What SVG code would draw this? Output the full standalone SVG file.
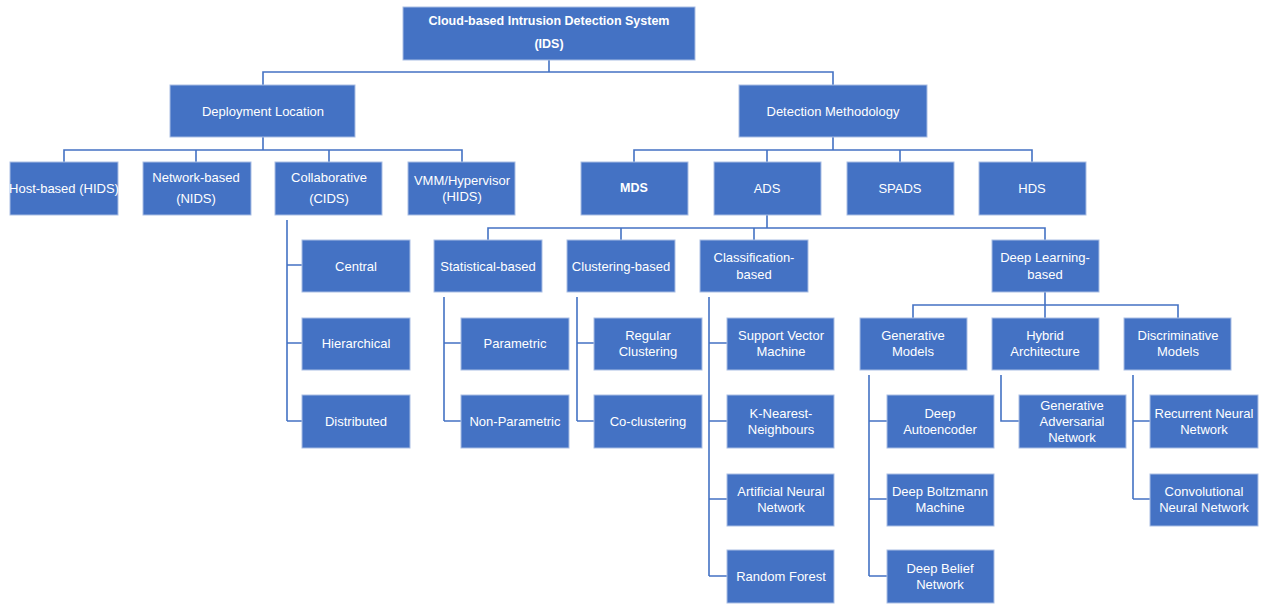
<svg xmlns="http://www.w3.org/2000/svg" width="1263" height="605" viewBox="0 0 1263 605">
<style>
.n rect{fill:#4472C4;stroke:#A9BEE4;stroke-width:1}
.n text{fill:#fff;font-family:"Liberation Sans",Arial,sans-serif;font-size:13px;text-anchor:middle;dominant-baseline:central}
.b text{font-weight:bold;font-size:12.5px}
#connectors path{fill:none;stroke:#4472C4;stroke-width:1.6}
</style>
<rect width="1263" height="605" fill="#fff"/>
<g id="connectors">
<path d="M549,60V72M263,85V72H833V85"/>
<path d="M263,137V150M64,162V150H462V162M196,150V162M329,150V162"/>
<path d="M833,137V150M634,162V150H1032V162M767,150V162M900,150V162"/>
<path d="M287,220V421M287,265H302M287,343H302M287,421H302"/>
<path d="M767,215V228M488,240V228H1045V240M621,228V240M754,228V240"/>
<path d="M444,297V421M444,343H461M444,421H461"/>
<path d="M577,297V421M577,343H594M577,421H594"/>
<path d="M709,297V576M709,343H727M709,421H727M709,499H727M709,576H727"/>
<path d="M1045,292V305M913,318V305H1178V318"/>
<path d="M1045,305V318"/>
<path d="M869,375V576M869,421H887M869,499H887M869,576H887"/>
<path d="M1001,375V421H1019"/>
<path d="M1133,375V499M1133,421H1150M1133,499H1150"/>
</g>
<g id="root" class="n b"><rect x="403" y="7" width="292" height="53"/><text x="549" y="21">Cloud-based Intrusion Detection System</text><text x="549" y="44">(IDS)</text></g>
<g id="deployment" class="n"><rect x="170" y="85" width="185" height="52"/><text x="263" y="111">Deployment Location</text></g>
<g id="detection" class="n"><rect x="739" y="85" width="188" height="52"/><text x="833" y="111">Detection Methodology</text></g>
<g id="hids" class="n"><rect x="10" y="162" width="108" height="53"/><text x="64" y="188">Host-based (HIDS)</text></g>
<g id="nids" class="n"><rect x="143" y="162" width="108" height="53"/><text x="196" y="177">Network-based</text><text x="196" y="198">(NIDS)</text></g>
<g id="cids" class="n"><rect x="275" y="162" width="107" height="53"/><text x="329" y="177">Collaborative</text><text x="329" y="198">(CIDS)</text></g>
<g id="vmm" class="n"><rect x="408" y="162" width="107" height="53"/><text x="462" y="180">VMM/Hypervisor</text><text x="462" y="196">(HIDS)</text></g>
<g id="mds" class="n b"><rect x="581" y="162" width="107" height="53"/><text x="634" y="188">MDS</text></g>
<g id="ads" class="n"><rect x="714" y="162" width="107" height="53"/><text x="767" y="188">ADS</text></g>
<g id="spads" class="n"><rect x="847" y="162" width="107" height="53"/><text x="900" y="188">SPADS</text></g>
<g id="hds" class="n"><rect x="979" y="162" width="107" height="53"/><text x="1032" y="188">HDS</text></g>
<g id="central" class="n"><rect x="302" y="240" width="108" height="52"/><text x="356" y="266">Central</text></g>
<g id="hierarchical" class="n"><rect x="302" y="318" width="108" height="52"/><text x="356" y="343">Hierarchical</text></g>
<g id="distributed" class="n"><rect x="302" y="395" width="108" height="53"/><text x="356" y="421">Distributed</text></g>
<g id="statistical" class="n"><rect x="434" y="240" width="108" height="52"/><text x="488" y="266">Statistical-based</text></g>
<g id="clustering" class="n"><rect x="567" y="240" width="108" height="52"/><text x="621" y="266">Clustering-based</text></g>
<g id="classification" class="n"><rect x="700" y="240" width="108" height="52"/><text x="754" y="257">Classification-</text><text x="754" y="274">based</text></g>
<g id="deeplearning" class="n"><rect x="992" y="240" width="107" height="52"/><text x="1045" y="257">Deep Learning-</text><text x="1045" y="274">based</text></g>
<g id="parametric" class="n"><rect x="461" y="318" width="108" height="52"/><text x="515" y="343">Parametric</text></g>
<g id="nonparametric" class="n"><rect x="461" y="395" width="108" height="53"/><text x="515" y="421">Non-Parametric</text></g>
<g id="regular" class="n"><rect x="594" y="318" width="108" height="52"/><text x="648" y="335">Regular</text><text x="648" y="351">Clustering</text></g>
<g id="coclustering" class="n"><rect x="594" y="395" width="108" height="53"/><text x="648" y="421">Co-clustering</text></g>
<g id="svm" class="n"><rect x="727" y="318" width="107" height="52"/><text x="781" y="335">Support Vector</text><text x="781" y="351">Machine</text></g>
<g id="knn" class="n"><rect x="727" y="395" width="107" height="53"/><text x="781" y="413">K-Nearest-</text><text x="781" y="429">Neighbours</text></g>
<g id="ann" class="n"><rect x="727" y="474" width="107" height="52"/><text x="781" y="491">Artificial Neural</text><text x="781" y="507">Network</text></g>
<g id="rf" class="n"><rect x="727" y="550" width="107" height="53"/><text x="781" y="576">Random Forest</text></g>
<g id="generative" class="n"><rect x="860" y="318" width="107" height="52"/><text x="913" y="335">Generative</text><text x="913" y="351">Models</text></g>
<g id="hybrid" class="n"><rect x="992" y="318" width="107" height="52"/><text x="1045" y="335">Hybrid</text><text x="1045" y="351">Architecture</text></g>
<g id="discriminative" class="n"><rect x="1124" y="318" width="107" height="52"/><text x="1178" y="335">Discriminative</text><text x="1178" y="351">Models</text></g>
<g id="autoencoder" class="n"><rect x="887" y="395" width="107" height="53"/><text x="940" y="413">Deep</text><text x="940" y="429">Autoencoder</text></g>
<g id="boltzmann" class="n"><rect x="887" y="474" width="107" height="52"/><text x="940" y="491">Deep Boltzmann</text><text x="940" y="507">Machine</text></g>
<g id="belief" class="n"><rect x="887" y="550" width="107" height="53"/><text x="940" y="568">Deep Belief</text><text x="940" y="584">Network</text></g>
<g id="gan" class="n"><rect x="1019" y="395" width="107" height="53"/><text x="1072" y="405">Generative</text><text x="1072" y="421">Adversarial</text><text x="1072" y="437">Network</text></g>
<g id="rnn" class="n"><rect x="1150" y="395" width="108" height="53"/><text x="1204" y="413">Recurrent Neural</text><text x="1204" y="429">Network</text></g>
<g id="cnn" class="n"><rect x="1150" y="474" width="108" height="52"/><text x="1204" y="491">Convolutional</text><text x="1204" y="507">Neural Network</text></g>
</svg>
